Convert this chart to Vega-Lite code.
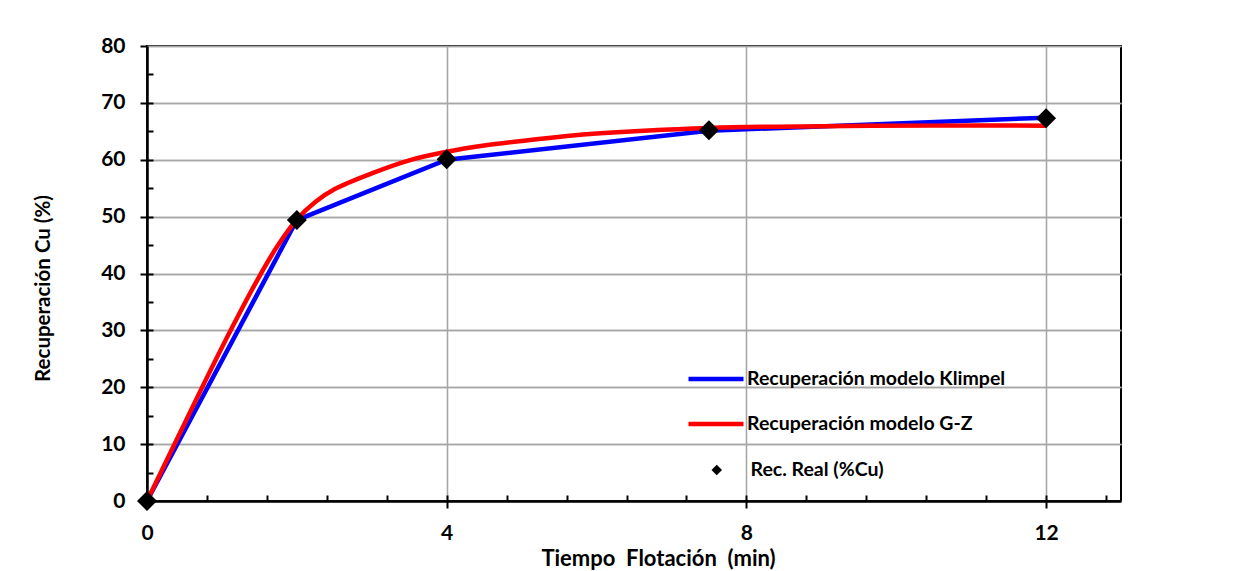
{
  "$schema": "https://vega.github.io/schema/vega-lite/v6.json",
  "width": 974,
  "height": 455,
  "autosize": {"type": "none"},
  "padding": {"left": 147, "top": 46, "right": 128, "bottom": 70},
  "background": "white",
  "datasets": {
    "klimpel": [
      {"serie": "Recuperación modelo Klimpel", "t": 0, "rec": 0},
      {"serie": "Recuperación modelo Klimpel", "t": 2, "rec": 49.4},
      {"serie": "Recuperación modelo Klimpel", "t": 4, "rec": 60.0},
      {"serie": "Recuperación modelo Klimpel", "t": 7.5, "rec": 65.1},
      {"serie": "Recuperación modelo Klimpel", "t": 12, "rec": 67.4}
    ],
    "gz": [
      {"serie": "Recuperación modelo G-Z", "t": 0, "rec": 0},
      {"serie": "Recuperación modelo G-Z", "t": 0.5, "rec": 13.6},
      {"serie": "Recuperación modelo G-Z", "t": 1, "rec": 27.0},
      {"serie": "Recuperación modelo G-Z", "t": 1.5, "rec": 39.5},
      {"serie": "Recuperación modelo G-Z", "t": 1.75, "rec": 45.0},
      {"serie": "Recuperación modelo G-Z", "t": 2, "rec": 49.5},
      {"serie": "Recuperación modelo G-Z", "t": 2.25, "rec": 52.6},
      {"serie": "Recuperación modelo G-Z", "t": 2.5, "rec": 54.8},
      {"serie": "Recuperación modelo G-Z", "t": 3, "rec": 57.6},
      {"serie": "Recuperación modelo G-Z", "t": 3.5, "rec": 59.9},
      {"serie": "Recuperación modelo G-Z", "t": 4, "rec": 61.4},
      {"serie": "Recuperación modelo G-Z", "t": 4.5, "rec": 62.5},
      {"serie": "Recuperación modelo G-Z", "t": 5, "rec": 63.3},
      {"serie": "Recuperación modelo G-Z", "t": 6, "rec": 64.6},
      {"serie": "Recuperación modelo G-Z", "t": 7.5, "rec": 65.6},
      {"serie": "Recuperación modelo G-Z", "t": 9, "rec": 65.9},
      {"serie": "Recuperación modelo G-Z", "t": 10.5, "rec": 66.0},
      {"serie": "Recuperación modelo G-Z", "t": 12, "rec": 66.0}
    ],
    "real": [
      {"serie": "Rec. Real (%Cu)", "t": 0, "rec": 0},
      {"serie": "Rec. Real (%Cu)", "t": 2, "rec": 49.4},
      {"serie": "Rec. Real (%Cu)", "t": 4, "rec": 60.1},
      {"serie": "Rec. Real (%Cu)", "t": 7.5, "rec": 65.2},
      {"serie": "Rec. Real (%Cu)", "t": 12, "rec": 67.3}
    ]
  },
  "config": {
    "font": "Lato",
    "view": {"stroke": "black", "strokeWidth": 2},
    "axis": {
      "labelFont": "Lato",
      "labelFontWeight": "bold",
      "labelFontSize": 21,
      "labelColor": "black",
      "labelFlush": false,
      "labelOverlap": false,
      "titleFont": "Lato",
      "titleFontWeight": "bold",
      "titleFontSize": 20.5,
      "titleColor": "black",
      "domainColor": "black",
      "domainWidth": 2.5,
      "tickColor": "black",
      "tickWidth": 2,
      "gridColor": "#a6a6a6",
      "gridWidth": 1.3
    },
    "legend": {
      "labelFont": "Lato",
      "labelFontWeight": "bold",
      "labelFontSize": 19.5,
      "labelColor": "black",
      "labelLimit": 400,
      "padding": 0
    }
  },
  "layer": [
    {
      "data": {"name": "klimpel"},
      "mark": {"type": "line", "strokeWidth": 4.5, "interpolate": "linear"},
      "encoding": {
        "x": {
          "field": "t",
          "type": "quantitative",
          "scale": {"domain": [0, 13], "nice": false, "zero": false},
          "axis": {
            "orient": "bottom",
            "title": "Tiempo\u00a0\u00a0Flotación\u00a0\u00a0(min)",
            "titleFontSize": 22,
            "titleX": 511,
            "values": [0, 4, 8, 12],
            "tickSize": 7,
            "labelPadding": 14,
            "titlePadding": 5
          }
        },
        "y": {
          "field": "rec",
          "type": "quantitative",
          "scale": {"domain": [0, 80], "nice": false},
          "axis": {
            "orient": "left",
            "title": "Recuperación Cu (%)",
            "titleY": 242,
            "values": [0, 10, 20, 30, 40, 50, 60, 70, 80],
            "tickSize": 7,
            "labelPadding": 15,
            "titlePadding": 47
          }
        },
        "stroke": {
          "field": "serie",
          "type": "nominal",
          "scale": {
            "domain": ["Recuperación modelo Klimpel", "Recuperación modelo G-Z"],
            "range": ["#0000ff", "#ff0000"]
          },
          "legend": {
            "title": null,
            "orient": "none",
            "legendX": 539,
            "legendY": 323,
            "direction": "vertical",
            "symbolType": "stroke",
            "symbolSize": 3025,
            "symbolStrokeWidth": 4.5,
            "clipHeight": 20,
            "rowPadding": 25,
            "labelOffset": 1
          }
        }
      }
    },
    {
      "data": {"name": "gz"},
      "mark": {"type": "line", "strokeWidth": 4.5, "interpolate": "catmull-rom"},
      "encoding": {
        "x": {"field": "t", "type": "quantitative", "axis": null},
        "y": {"field": "rec", "type": "quantitative", "axis": null},
        "stroke": {"field": "serie", "type": "nominal"}
      }
    },
    {
      "data": {"name": "real"},
      "mark": {"type": "point", "filled": true, "size": 400, "opacity": 1},
      "encoding": {
        "x": {"field": "t", "type": "quantitative", "axis": null},
        "y": {"field": "rec", "type": "quantitative", "axis": null},
        "color": {"value": "black"},
        "shape": {
          "field": "serie",
          "type": "nominal",
          "scale": {"domain": ["Rec. Real (%Cu)"], "range": ["diamond"]},
          "legend": {
            "title": null,
            "orient": "none",
            "legendX": 560,
            "legendY": 414,
            "symbolSize": 110,
            "symbolFillColor": "black",
            "symbolStrokeWidth": 0,
            "clipHeight": 20,
            "labelOffset": 24
          }
        }
      }
    },
    {
      "data": {"name": "real"},
      "mark": {"type": "point", "opacity": 0},
      "encoding": {
        "x": {
          "field": "t",
          "type": "quantitative",
          "axis": {
            "orient": "bottom",
            "offset": 0,
            "title": null,
            "labels": false,
            "grid": false,
            "domain": false,
            "values": [0.8, 1.6, 2.4, 3.2, 4, 4.8, 5.6, 6.4, 7.2, 8, 8.8, 9.6, 10.4, 11.2, 12, 12.8],
            "tickSize": -6
          }
        },
        "y": {
          "field": "rec",
          "type": "quantitative",
          "axis": {
            "orient": "left",
            "offset": 0,
            "title": null,
            "labels": false,
            "grid": false,
            "domain": false,
            "values": [5, 10, 15, 20, 25, 30, 35, 40, 45, 50, 55, 60, 65, 70, 75],
            "tickSize": -6
          }
        }
      }
    },
    {
      "data": {"name": "real"},
      "mark": {"type": "point", "opacity": 0},
      "encoding": {
        "x": {
          "field": "t",
          "type": "quantitative",
          "axis": {
            "orient": "top",
            "offset": 0,
            "title": null,
            "labels": false,
            "ticks": false,
            "domain": false,
            "grid": true,
            "values": [4, 8, 12]
          }
        },
        "y": {
          "field": "rec",
          "type": "quantitative",
          "axis": {
            "orient": "right",
            "offset": 0,
            "title": null,
            "labels": false,
            "ticks": false,
            "domain": false,
            "grid": true,
            "values": [10, 20, 30, 40, 50, 60, 70, 80]
          }
        }
      }
    }
  ],
  "resolve": {"axis": {"x": "independent", "y": "independent"}}
}
